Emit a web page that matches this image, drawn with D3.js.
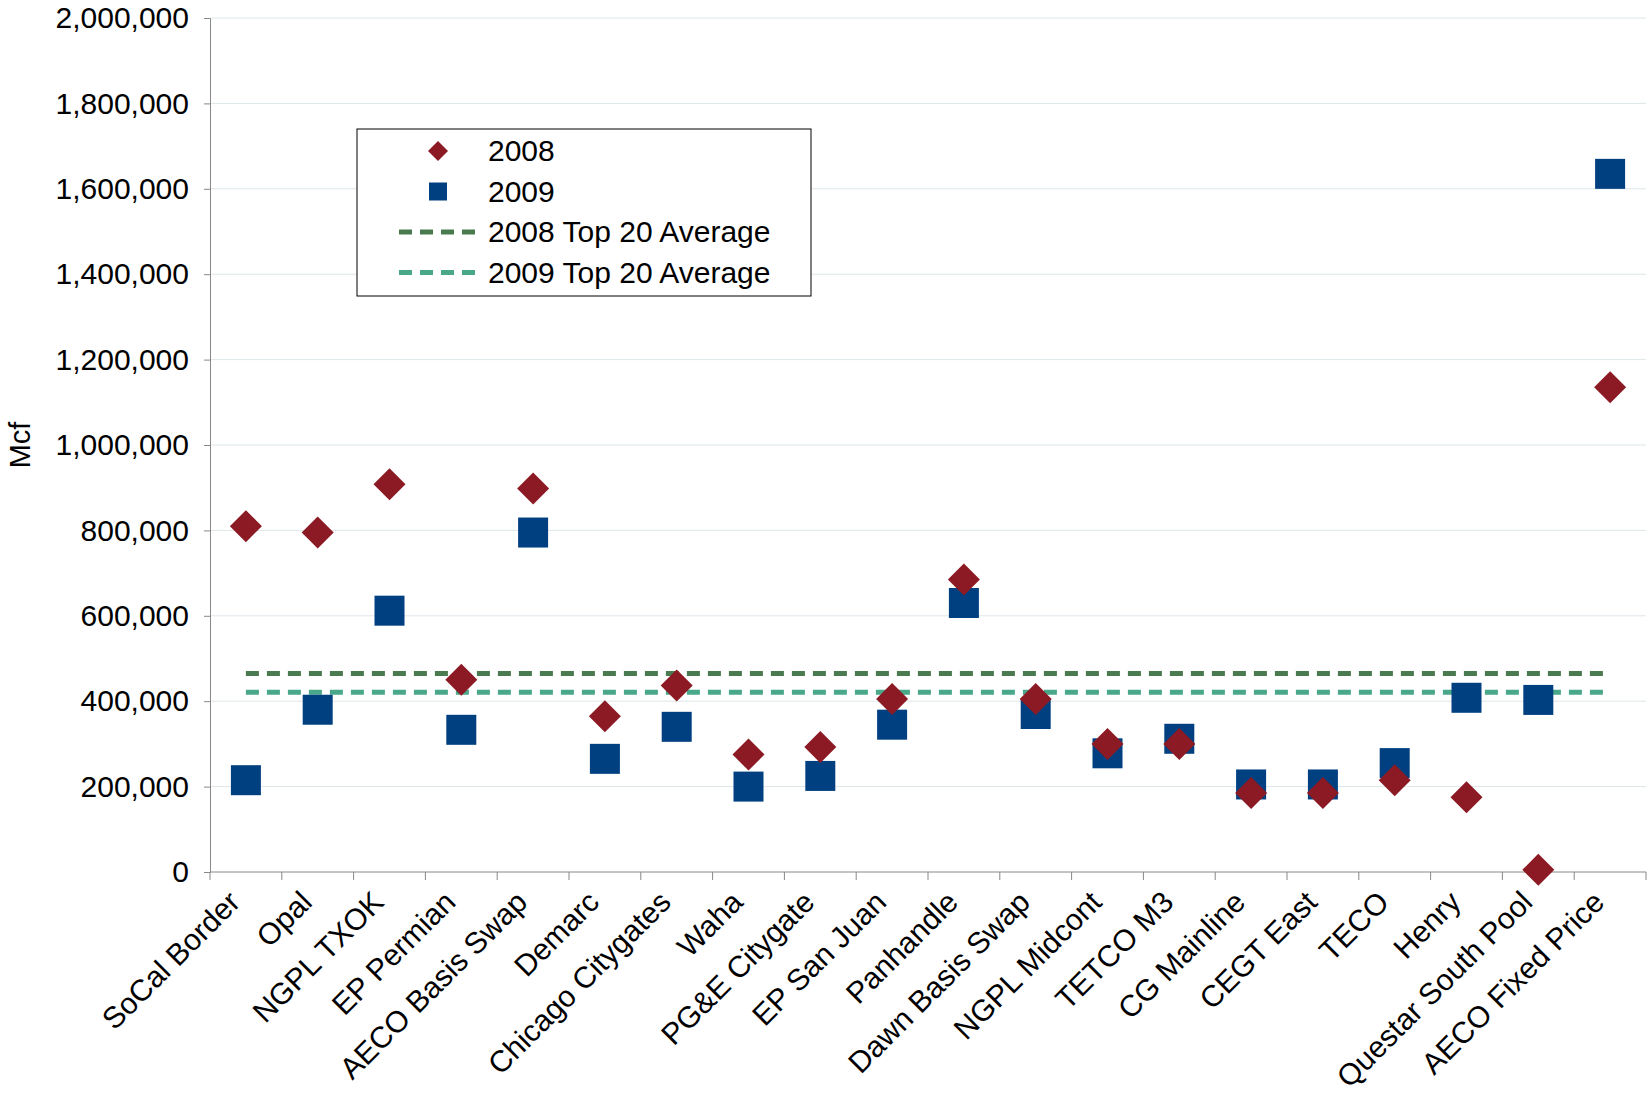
<!DOCTYPE html>
<html><head><meta charset="utf-8">
<script src="https://cdn.jsdelivr.net/npm/d3@7"></script>
<style>body{margin:0;background:#fff}text{font-family:"Liberation Sans",Arial,sans-serif}</style>
</head><body><svg id="chart" width="1648" height="1096"></svg>
<script>
const categories = ["SoCal Border","Opal","NGPL TXOK","EP Permian","AECO Basis Swap","Demarc","Chicago Citygates","Waha","PG&E Citygate","EP San Juan","Panhandle","Dawn Basis Swap","NGPL Midcont","TETCO M3","CG Mainline","CEGT East","TECO","Henry","Questar South Pool","AECO Fixed Price"];
const values2008 = [810000,795000,908000,450000,898000,365000,437000,275000,293000,405000,685000,405000,300000,300000,185000,185000,215000,175000,5000,1135000];
const values2009 = [215000,380000,612000,333000,795000,265000,340000,200000,225000,345000,630000,370000,278000,312000,205000,205000,255000,408000,403000,1635000];
const avg2008 = 465000, avg2009 = 421000;
const yTicks = d3.range(0, 2000001, 200000);

const svg = d3.select("#chart");
const L = 210, R = 1646, T = 18, B = 872;
const x = d3.scaleBand().domain(categories).range([L, R]);
const y = d3.scaleLinear().domain([0, 2000000]).range([B, T]);

svg.append("g").selectAll("line").data(yTicks.slice(1)).join("line")
  .attr("x1", L).attr("x2", R).attr("y1", d => y(d)).attr("y2", d => y(d))
  .attr("stroke", "#dde6ea").attr("stroke-width", 1);

const ya = svg.append("g").attr("transform", `translate(${L},0)`)
  .call(d3.axisLeft(y).tickValues(yTicks).tickFormat(d3.format(",")).tickSize(6));
ya.selectAll("text").attr("font-size", 30).attr("fill", "#000").attr("dx", "-12");
ya.select(".domain").attr("stroke", "#888");
ya.selectAll(".tick line").attr("stroke", "#888");

const xa = svg.append("g").attr("transform", `translate(0,${B})`);
xa.append("line").attr("x1", L).attr("x2", R).attr("stroke", "#888");
xa.selectAll(".t").data(categories.concat([null])).join("line")
  .attr("x1", (d, i) => L + i * x.bandwidth()).attr("x2", (d, i) => L + i * x.bandwidth())
  .attr("y1", 0).attr("y2", 8).attr("stroke", "#888");
xa.selectAll("text").data(categories).join("text")
  .attr("transform", d => `translate(${x(d) + x.bandwidth() / 2 - 4},32) rotate(-45)`)
  .attr("text-anchor", "end").attr("font-size", 30).text(d => d);

svg.append("text").attr("transform", `translate(30,${(T + B) / 2}) rotate(-90)`)
  .attr("text-anchor", "middle").attr("font-size", 29).text("Mcf");

const cx = d => x(d) + x.bandwidth() / 2;
const x0 = cx(categories[0]), x1 = cx(categories[categories.length - 1]);
[[avg2008, "#4a7a4f"], [avg2009, "#4aa88a"]].forEach(([v, c]) => {
  svg.append("line").attr("x1", x0).attr("x2", x1).attr("y1", y(v)).attr("y2", y(v))
    .attr("stroke", c).attr("stroke-width", 5).attr("stroke-dasharray", "13,8");
});

svg.append("g").selectAll("rect").data(categories).join("rect")
  .attr("x", d => cx(d) - 15).attr("y", (d, i) => y(values2009[i]) - 15)
  .attr("width", 30).attr("height", 30).attr("fill", "#004080");
svg.append("g").selectAll("path").data(categories).join("path")
  .attr("transform", (d, i) => `translate(${cx(d)},${y(values2008[i])})`)
  .attr("d", "M0,-16L16,0L0,16L-16,0Z").attr("fill", "#8b1a24");

const lg = svg.append("g").attr("transform", "translate(357,129)");
lg.append("rect").attr("width", 454).attr("height", 167).attr("fill", "#fff").attr("stroke", "#000");
const items = [["2008","d"],["2009","s"],["2008 Top 20 Average","#4a7a4f"],["2009 Top 20 Average","#4aa88a"]];
items.forEach(([t, k], i) => {
  const yy = 22 + i * 40.5;
  if (k === "d") lg.append("path").attr("transform", `translate(81,${yy})`).attr("d", "M0,-10L10,0L0,10L-10,0Z").attr("fill", "#8b1a24");
  else if (k === "s") lg.append("rect").attr("x", 72).attr("y", yy - 9).attr("width", 18).attr("height", 18).attr("fill", "#004080");
  else lg.append("line").attr("x1", 42).attr("x2", 124).attr("y1", yy).attr("y2", yy)
    .attr("stroke", k).attr("stroke-width", 5).attr("stroke-dasharray", "13,8");
  lg.append("text").attr("x", 131).attr("y", yy + 10).attr("font-size", 30).text(t);
});
</script></body></html>
